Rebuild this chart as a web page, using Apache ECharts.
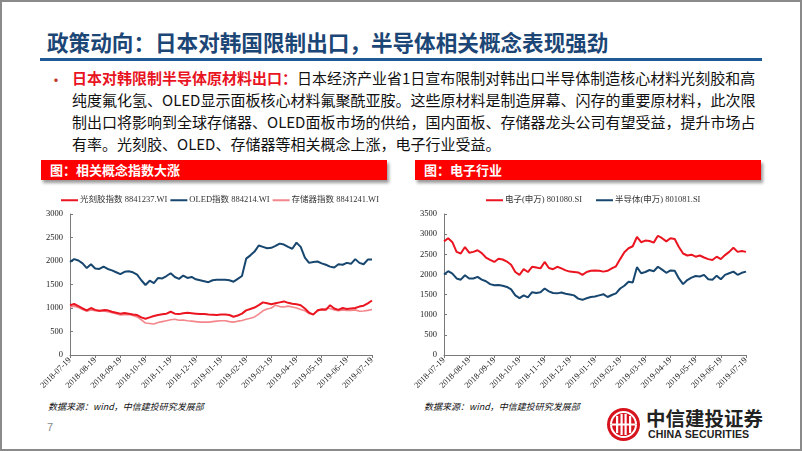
<!DOCTYPE html>
<html><head><meta charset="utf-8">
<script src="https://cdn.jsdelivr.net/npm/echarts@6/dist/echarts.min.js"></script>
<style>
html,body{margin:0;padding:0;width:802px;height:451px;overflow:hidden;background:#fff;}
#page{position:absolute;left:0;top:0;width:798px;height:447px;border:2px solid #8a8a8a;}
.abs{position:absolute;white-space:nowrap;}
#title{left:47px;top:26px;font:bold 21.6px "Noto Sans CJK SC";color:#1b4675;letter-spacing:0px;}
#rule{left:40px;top:58px;width:722px;height:3px;background:#1e5a96;}
.ln{position:absolute;left:72px;width:680px;font:15px "Noto Sans CJK SC";color:#111;text-align:justify;text-align-last:justify;white-space:nowrap;line-height:20px;}
.red{color:#e8141f;font-weight:bold;}
#bullet{left:48px;top:67px;color:#c0392b;font:16px "Noto Sans CJK SC";}
.bar{position:absolute;height:20px;background:#fe0000;box-shadow:2px 3px 3px #9a9a9a;color:#fff;font:bold 13px "Noto Sans CJK SC";line-height:20px;padding-left:9px;box-sizing:border-box;}
.src{font:italic 9px "Noto Sans CJK SC";color:#111;}
#chart{position:absolute;left:0;top:0;width:802px;height:451px;}
</style></head>
<body>
<div id="page"></div>
<div class="abs" id="title">政策动向：日本对韩国限制出口，半导体相关概念表现强劲</div>
<div class="abs" id="rule"></div>
<div class="abs" id="bullet">•</div>
<div class="ln" style="top:68px"><span class="red">日本对韩限制半导体原材料出口：</span>日本经济产业省1日宣布限制对韩出口半导体制造核心材料光刻胶和高</div>
<div class="ln" style="top:90px">纯度氟化氢、OLED显示面板核心材料氟聚酰亚胺。这些原材料是制造屏幕、闪存的重要原材料，此次限</div>
<div class="ln" style="top:112px">制出口将影响到全球存储器、OLED面板市场的供给，国内面板、存储器龙头公司有望受益，提升市场占</div>
<div class="ln" style="top:134px;text-align-last:left">有率。光刻胶、OLED、存储器等相关概念上涨，电子行业受益。</div>
<div class="bar" style="left:41px;top:160px;width:346px">图：相关概念指数大涨</div>
<div class="bar" style="left:415px;top:160px;width:346px">图：电子行业</div>
<div class="abs src" style="left:48px;top:400px">数据来源：wind，中信建投研究发展部</div>
<div class="abs src" style="left:424px;top:400px">数据来源：wind，中信建投研究发展部</div>
<div class="abs" style="left:47px;top:421px;font:11px 'Liberation Sans';color:#888">7</div>
<svg class="abs" style="left:606px;top:407px" width="35" height="35" viewBox="0 0 35 35">
<circle cx="17.5" cy="17.5" r="16.5" fill="#d7141d"/>
<path d="M5 17.5 A12.5 12.5 0 0 1 30 17.5" fill="none" stroke="#fff" stroke-width="2"/>
<path d="M5 17.5 A12.5 12.5 0 0 0 30 17.5" fill="none" stroke="#fff" stroke-width="2"/>
<rect x="10" y="9" width="2.2" height="17" fill="#fff"/><rect x="14.5" y="7" width="2.2" height="21" fill="#fff"/>
<rect x="18.5" y="7" width="2.2" height="21" fill="#fff"/><rect x="23" y="9" width="2.2" height="17" fill="#fff"/>
<rect x="6" y="16.5" width="23" height="2" fill="#fff"/>
</svg>
<div class="abs" style="left:646px;top:406px;font:bold 19.5px 'Noto Sans CJK SC';color:#222;line-height:24px">中信建投证券</div>
<div class="abs" style="left:648px;top:428px;font:bold 10.6px 'Liberation Sans';color:#222;line-height:12px;letter-spacing:0.1px">CHINA SECURITIES</div>
<div id="chart"></div>
<script>
var monthTicks = ['2018-07-19','2018-08-19','2018-09-19','2018-10-19','2018-11-19','2018-12-19','2019-01-19','2019-02-19','2019-03-19','2019-04-19','2019-05-19','2019-06-19','2019-07-19'];
var legendL = ['光刻胶指数 8841237.WI','OLED指数 884214.WI','存储器指数 8841241.WI'];
var legendR = ['电子(申万) 801080.SI','半导体(申万) 801081.SI'];
var photoresist = [1060,1085,1040,990,950,1000,960,940,955,950,920,900,880,895,880,860,850,800,770,800,830,850,865,880,920,880,870,890,900,890,880,870,870,860,855,850,860,860,850,815,840,880,950,980,1010,1060,1120,1100,1080,1100,1120,1140,1110,1090,1080,1060,990,900,860,950,970,960,1060,990,960,1000,980,990,1000,1030,1050,1100,1160];
var oled = [1980,2040,2010,1950,1850,1930,1840,1830,1880,1830,1800,1760,1720,1770,1780,1760,1710,1590,1490,1580,1530,1640,1630,1680,1740,1660,1620,1690,1640,1660,1610,1590,1570,1550,1590,1600,1600,1600,1590,1560,1620,1680,2050,2120,2200,2330,2300,2270,2280,2320,2370,2350,2300,2260,2390,2300,2070,1960,1980,1990,1950,1920,1880,1860,1930,1920,1960,1940,2040,1960,1930,2030,2030];
var memory = [1020,1040,1010,970,930,960,940,930,935,920,900,880,850,860,860,840,810,750,680,670,660,690,710,730,750,760,740,745,730,720,710,700,700,700,710,720,730,730,710,700,720,735,760,780,810,870,940,980,1000,1060,1030,1020,1040,1020,1000,970,940,880,870,930,980,990,990,960,940,960,950,950,960,930,935,950,970];
var electronics = [2820,2900,2800,2560,2520,2680,2540,2560,2600,2530,2420,2360,2310,2390,2370,2320,2240,2060,1990,2130,2060,2190,2170,2150,2310,2160,2130,2190,2150,2100,2070,2060,2050,1990,2060,2090,2100,2090,2070,2090,2150,2200,2380,2550,2650,2700,2930,2800,2840,2830,2790,2960,2900,2820,2900,2880,2680,2520,2470,2490,2440,2470,2420,2380,2360,2440,2380,2480,2560,2660,2560,2580,2560];
var semis = [2000,2080,2020,1900,1870,1980,1900,1900,1940,1870,1830,1760,1730,1740,1720,1690,1630,1480,1410,1480,1430,1560,1540,1560,1650,1580,1540,1530,1550,1520,1500,1480,1400,1370,1410,1440,1450,1480,1510,1440,1490,1530,1650,1720,1820,1800,2180,2030,2060,2110,2080,2190,2120,2040,2100,2090,1900,1760,1860,1920,1960,1950,1990,1880,1870,1970,1880,1990,2030,2070,1990,2040,2070];

// category dates: six steps per month between the monthly tick dates
var STEPS = 6;
function fmt(d){var m=d.getMonth()+1,dd=d.getDate();return d.getFullYear()+'-'+(m<10?'0':'')+m+'-'+(dd<10?'0':'')+dd;}
var categories = [];
for (var m=0;m<monthTicks.length-1;m++){
  var a=new Date(monthTicks[m]+'T00:00:00'), b=new Date(monthTicks[m+1]+'T00:00:00');
  for (var k=0;k<STEPS;k++){ categories.push(k===0?monthTicks[m]:fmt(new Date(a.getTime()+(b-a)*k/STEPS))); }
}
categories.push(monthTicks[monthTicks.length-1]);

var FONT = "'Liberation Serif','Noto Sans CJK SC'";
var RED='#ea1520', BLUE='#17466f', PINK='#f3868b';
function xAxis(gi){return {type:'category',gridIndex:gi,data:categories,boundaryGap:false,
  axisLine:{lineStyle:{color:'#7a7a7a',width:1}},
  axisTick:{interval:STEPS-1,length:3,lineStyle:{color:'#7a7a7a'}},
  axisLabel:{interval:STEPS-1,rotate:45,fontSize:8.5,fontFamily:FONT,color:'#222',margin:4},
  splitLine:{show:false}};}
function yAxis(gi,max){return {type:'value',gridIndex:gi,min:0,max:max,interval:500,
  axisLine:{show:true,lineStyle:{color:'#7a7a7a',width:1}},
  axisTick:{show:true,inside:true,length:3,lineStyle:{color:'#7a7a7a'}},
  axisLabel:{fontSize:8.5,fontFamily:FONT,color:'#222',margin:7,formatter:function(v){return String(v);}},
  splitLine:{show:false}};}
function line(name,data,color,gi,w,z){return {name:name,type:'line',xAxisIndex:gi,yAxisIndex:gi,data:data,
  symbol:'none',smooth:false,z:z,lineStyle:{color:color,width:w},itemStyle:{color:color},animation:false};}

var chart = echarts.init(document.getElementById('chart'));
chart.setOption({
  animation:false,
  grid:[{left:70,top:214,width:302,height:141},{left:444,top:214,width:302,height:141}],
  legend:[
    {data:legendL,left:56,top:191,itemWidth:17,itemHeight:2,itemGap:3,icon:'rect',
     textStyle:{fontSize:8.5,fontFamily:FONT,color:'#333',padding:[0,0,0,-3]}},
    {data:legendR,left:481,top:191,itemWidth:17,itemHeight:2,itemGap:14,icon:'rect',
     textStyle:{fontSize:8.5,fontFamily:FONT,color:'#333',padding:[0,0,0,-3]}}
  ],
  xAxis:[xAxis(0),xAxis(1)],
  yAxis:[yAxis(0,3000),yAxis(1,3500)],
  series:[
    line(legendL[0],photoresist,RED,0,2,4),
    line(legendL[1],oled,BLUE,0,2,3),
    line(legendL[2],memory,PINK,0,1.6,2),
    line(legendR[0],electronics,RED,1,2,3),
    line(legendR[1],semis,BLUE,1,2,3)
  ]
});
</script>
</body></html>
